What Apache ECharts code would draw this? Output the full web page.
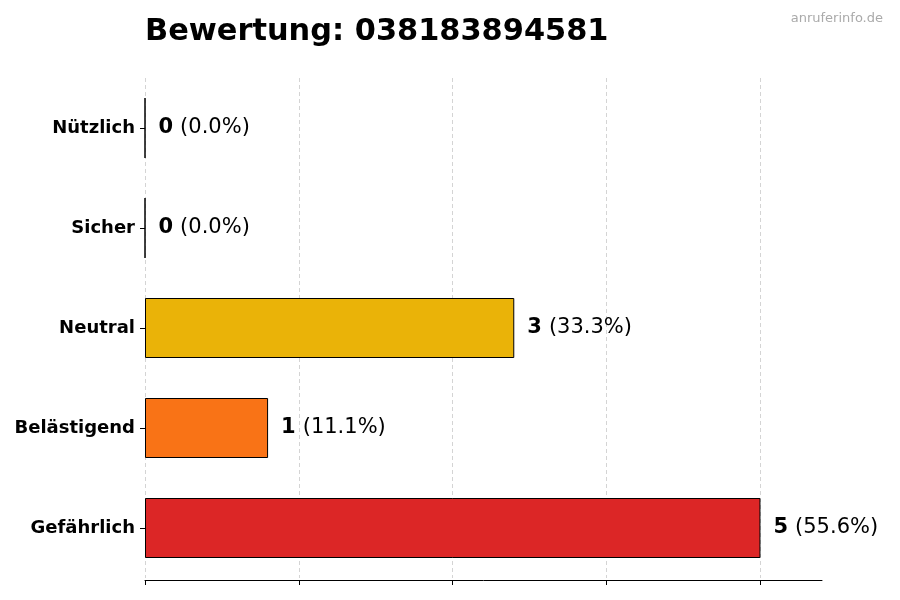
<!DOCTYPE html>
<html><head><meta charset="utf-8">
<script src="https://cdn.jsdelivr.net/npm/echarts@6/dist/echarts.min.js"></script>
<style>html,body{margin:0;padding:0;background:#fff}#c{width:900px;height:600px}</style>
</head><body><div id="c"></div>
<script>
const categories = ['Nützlich', 'Sicher', 'Neutral', 'Belästigend', 'Gefährlich'];
const counts = [0, 0, 3, 1, 5];
const percents = ['0.0%', '0.0%', '33.3%', '11.1%', '55.6%'];
const colors = ['#22c55e', '#3b82f6', '#eab308', '#f97316', '#dc2626'];
const xTicks = [0, 1.25, 2.5, 3.75, 5];
const titleText = 'Bewertung: 038183894581';
const watermark = 'anruferinfo.de';

const chart = echarts.init(document.getElementById('c'));
const font = 'DejaVu Sans';
chart.setOption({
  animation: false,
  title: [{
    text: titleText, left: 140, top: 12,
    textStyle: {fontFamily: font, fontWeight: 'bold', fontSize: 30.4, color: '#000'}
  }, {
    text: watermark, right: 12, top: 7,
    textStyle: {fontFamily: font, fontWeight: 'normal', fontSize: 13, color: '#aaa'}
  }],
  grid: {left: 145, right: 78, top: 78, bottom: 22, containLabel: false},
  xAxis: {
    type: 'value', min: 0, max: 5.5, interval: 1.25, offset: 2,
    axisLine: {show: true, lineStyle: {color: '#000', width: 1}},
    axisTick: {show: true, length: 5, customValues: xTicks, lineStyle: {color: '#000'}},
    axisLabel: {show: false},
    splitLine: {show: true, lineStyle: {type: [4, 3], color: '#d4d4d4', width: 1}}
  },
  yAxis: {
    type: 'category', data: categories, inverse: true,
    axisLine: {show: false},
    axisTick: {show: true, length: 5, alignWithLabel: true, lineStyle: {color: '#000'}},
    axisLabel: {fontFamily: font, fontWeight: 'bold', fontSize: 18, color: '#000', margin: 10}
  },
  series: [{
    type: 'bar', barWidth: '60%',
    data: counts.map((v, i) => ({value: v, itemStyle: {color: colors[i], borderColor: '#000', borderWidth: 1}})),
    label: {
      show: true, position: 'right', distance: 13,
      formatter: p => '{b|' + counts[p.dataIndex] + '}{n|(' + percents[p.dataIndex] + ')}',
      rich: {
        b: {fontFamily: font, fontWeight: 'bold', fontSize: 21, color: '#000'},
        n: {fontFamily: font, fontWeight: 'normal', fontSize: 21, color: '#000', padding: [0, 0, 0, 7]}
      }
    }
  }]
});
</script></body></html>
